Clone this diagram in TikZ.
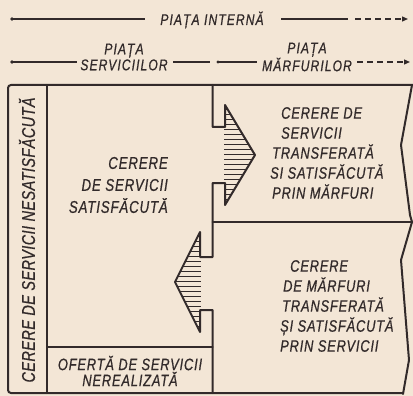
\documentclass[tikz,border=0pt]{standalone}
\usepackage{fontspec}
\setmainfont{Liberation Sans}[FakeStretch=0.78,FakeBold=0.7,LetterSpace=5]
\usetikzlibrary{arrows.meta}
\definecolor{bgc}{RGB}{243,230,214}
\definecolor{inkc}{RGB}{50,42,42}
\begin{document}
\begin{tikzpicture}[x=1pt,y=-1pt,
  frame/.style={draw=inkc,line width=2pt,line join=round,line cap=round},
  hatch/.style={draw=inkc,line width=0.8pt},
  hline/.style={draw=inkc,line width=1.3pt},
  lbl/.style={text=inkc,inner sep=0pt,font=\fontsize{16.5}{20}\selectfont\itshape},
  hdr/.style={text=inkc,inner sep=0pt,font=\fontsize{15.5}{16}\selectfont\itshape\addfontfeature{LetterSpace=7},align=center},
  tip/.style={-{Triangle[length=6pt,width=5pt]}}]
\fill[bgc] (0,0) rectangle (413,396);
\useasboundingbox (0,0) rectangle (413,396);

% header
\node[hdr] (pi) at (212,20) {PIAȚA INTERNĂ};
\draw[hline] (12,19) -- (145,19);
\fill[inkc] (12,19) circle (1.8pt);
\draw[hline] (281,19) -- (348,19);
\draw[hline,tip,dash pattern=on 6pt off 4pt] (355,19) -- (408,19);

\node[hdr] (ps) at (124,57) {PIAȚA\\SERVICIILOR};
\node[hdr] (pm) at (307,57) {PIAȚA\\MĂRFURILOR};
\draw[hline] (12,62) -- (77,62);
\fill[inkc] (12,62) circle (1.8pt);
\draw[hline] (173,62) -- (210,62);
\fill[inkc] (218,62) circle (1.6pt);
\draw[hline] (218,62) -- (257,62);
\draw[hline,tip,dash pattern=on 6pt off 4pt] (357,62) -- (410,62);

% frame
\draw[frame,rounded corners=3pt] (413,85) -- (8,85) -- (8,393) -- (403,393);
\draw[frame] (47,85) -- (47,393);
\draw[frame] (212.7,85) -- (212.7,127) -- (225,127) -- (225,105) -- (255,155)
  -- (225,205) -- (225,183) -- (212.7,183) -- (212.7,257) -- (200,257)
  -- (200,232) -- (175,282) -- (200,332) -- (200,310) -- (212.7,310) -- (212.7,393);
\draw[frame] (212.7,222) -- (411,222);
\draw[frame] (47,347) -- (212.7,347);
% right zigzag edge
\draw[frame] (412,85) -- (401,145) -- (410,215) -- (412,222);
\draw[frame] (412,222) -- (401,260) -- (409,360) -- (403,394);

% hatching
\foreach \yy in {109,114,...,204} {
  \pgfmathsetmacro{\xr}{255-30*abs(\yy-155)/50}
  \draw[hatch] (224,\yy) -- (\xr,\yy);
}
\foreach \yy in {236,241,...,331} {
  \pgfmathsetmacro{\xl}{175+25*abs(\yy-282)/50}
  \draw[hatch] (\xl,\yy) -- (201,\yy);
}

% texts
\node[lbl,rotate=90,font=\fontsize{18.5}{20}\selectfont\itshape\addfontfeature{LetterSpace=2.5}] (nes) at (27,240) {CERERE DE SERVICII NESATISFĂCUTĂ};
\node[lbl,align=right,anchor=east,font=\fontsize{17}{22}\selectfont\itshape] (sat) at (168,185) {CERERE\\DE SERVICII\\SATISFĂCUTĂ};
\node[lbl,align=left,anchor=west] (tm) at (270,153) {\hspace*{11pt}CERERE DE\\\hspace*{11pt}SERVICII\\\hspace*{2pt}TRANSFERATĂ\\SI SATISFĂCUTĂ\\\hspace*{2pt}PRIN MĂRFURI};
\node[lbl,align=left,anchor=west] (ts) at (280,306) {\hspace*{10pt}CERERE\\\hspace*{3pt}DE MĂRFURI\\\hspace*{2pt}TRANSFERATĂ\\ȘI SATISFĂCUTĂ\\PRIN SERVICII};
\node[lbl,align=center,font=\fontsize{16.5}{16}\selectfont\itshape] (of) at (130,371) {OFERTĂ DE SERVICII\\NEREALIZATĂ};
\end{tikzpicture}
\end{document}
